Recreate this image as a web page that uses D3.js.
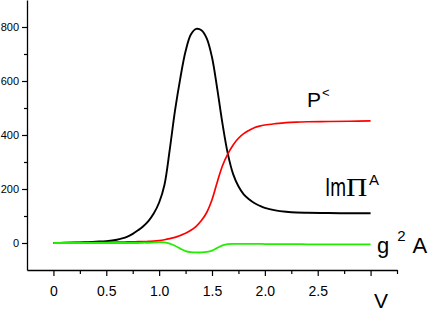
<!DOCTYPE html>
<html>
<head>
<meta charset="utf-8">
<script src="https://cdn.jsdelivr.net/npm/d3@7"></script>
<style>
  html, body { margin: 0; padding: 0; background: #fff; }
  svg { display: block; font-family: "Liberation Sans", Arial, sans-serif; }
</style>
</head>
<body>
<svg id="chart" width="436" height="311"></svg>
<script>
// ---- data ----
const V = [0,0.1,0.2,0.3,0.4,0.5,0.6,0.65,0.7,0.75,0.8,0.85,0.9,0.95,1.0,1.05,1.1,1.15,1.2,1.25,1.3,1.35,1.4,1.45,1.5,1.55,1.6,1.65,1.7,1.75,1.8,1.85,1.9,1.95,2.0,2.1,2.2,2.3,2.4,2.6,2.8,3.0];
const imPiA = [0,1,2,3,5,7,12,17,24,34,47,62,82,110,150,215,345,490,610,710,772,793,788,758,688,570,440,330,255,210,180,162,148,138,130,121,116,113,112,111,110,110];
const pLess = [0,0,1,1,2,2,3,3,4,4,5,5,6,7,9,12,16,21,28,36,47,62,83,113,160,226,287,330,363,388,405,417,427,433,437,442,446,448,449,450,451,452];
const g2A = [0,0,0,0,0,0,0,0,0,0,0,1,1,2,3,2,-2,-10,-21,-30,-34,-35,-35,-33,-28,-18,-9,-4,-3,-3,-3,-3,-3,-3,-4,-4,-4,-4,-5,-5,-5,-5];
const yMajor = [0,200,400,600,800];
const yMinor = [100,300,500,700];
const xMajor = [0,0.5,1.0,1.5,2.0,2.5,3.0];
const xMinor = [0.25,0.75,1.25,1.75,2.25,2.75,3.25];
const xLabels = ["0","0.5","1.0","1.5","2.0","2.5",""];

// ---- scales ----
const svg = d3.select("#chart");
const x = d3.scaleLinear().domain([-0.25, 3.25]).range([27, 397]);
const y = d3.scaleLinear().domain([-100, 900]).range([270, 0]);

// ---- axes ----
const yAx = svg.append("g").attr("transform", "translate(27,0)")
  .call(d3.axisLeft(y).tickValues(yMajor).tickSize(5).tickSizeOuter(0).tickPadding(3).tickFormat(d3.format("d")));
yAx.selectAll("text").attr("font-size", "11px").attr("font-family", "Liberation Sans, Arial, sans-serif").attr("fill", "#000");
yAx.select(".domain").attr("stroke-width", 1.3);
yAx.selectAll(".tick line").attr("stroke-width", 1.2);
const yMin = svg.append("g").attr("transform", "translate(27,0)")
  .call(d3.axisLeft(y).tickValues(yMinor).tickSize(3).tickSizeOuter(0).tickFormat(""));
yMin.select(".domain").remove();
yMin.selectAll(".tick line").attr("stroke-width", 1.2);

const xAx = svg.append("g").attr("transform", "translate(0,270)")
  .call(d3.axisBottom(x).tickValues(xMajor).tickSize(6).tickSizeOuter(0)
    .tickFormat((d, i) => xLabels[i]));
xAx.selectAll("text").attr("font-size", "14px").attr("font-family", "Liberation Sans, Arial, sans-serif")
  .attr("fill", "#000").attr("y", 26).attr("dy", 0);
xAx.select(".domain").attr("stroke-width", 1.3);
xAx.selectAll(".tick line").attr("stroke-width", 1.2);
const xMin = svg.append("g").attr("transform", "translate(0,270)")
  .call(d3.axisBottom(x).tickValues(xMinor).tickSize(4).tickSizeOuter(0).tickFormat(""));
xMin.select(".domain").remove();
xMin.selectAll(".tick line").attr("stroke-width", 1.2);

// ---- lines ----
const line = d3.line().x((d, i) => x(V[i])).y(d => y(d)).curve(d3.curveCatmullRom.alpha(0.5));
const series = [
  { vals: imPiA, color: "#000000", w: 1.9 },
  { vals: pLess, color: "#ff0000", w: 1.7 },
  { vals: g2A, color: "#22ee00", w: 1.8 }
];
series.forEach(s => {
  svg.append("path").datum(s.vals).attr("d", line)
    .attr("fill", "none").attr("stroke", s.color).attr("stroke-width", s.w)
    .attr("stroke-linejoin", "round");
});

// ---- labels ----
const lab = svg.append("g").attr("font-family", "Liberation Sans, Arial, sans-serif").attr("fill", "#000");
// P<
const p = lab.append("text").attr("x", 307).attr("y", 107).attr("font-size", "21px");
p.append("tspan").text("P");
p.append("tspan").attr("font-size", "13px").attr("dy", -10).attr("dx", 1).text("<");
// ImΠ^A (tall, narrow)
lab.append("text").attr("transform", "translate(325,196) scale(1,1.35)").attr("font-size", "19px").text("Im");
lab.append("text").attr("transform", "translate(346,196) scale(1.55,1.35)")
  .attr("font-family", "Liberation Serif, serif").attr("font-size", "19px").text("Π");
lab.append("text").attr("x", 369).attr("y", 185).attr("font-size", "15px").text("A");
// g 2 A
const g = lab.append("text").attr("x", 377).attr("y", 253).attr("font-size", "22px");
g.append("tspan").text("g");
g.append("tspan").attr("font-size", "15px").attr("dy", -12).attr("dx", 8).text("2");
g.append("tspan").attr("dy", 12).attr("dx", 7).text("A");
// V
lab.append("text").attr("x", 381).attr("y", 308).attr("text-anchor", "middle").attr("font-size", "21px").text("V");
</script>
</body>
</html>
